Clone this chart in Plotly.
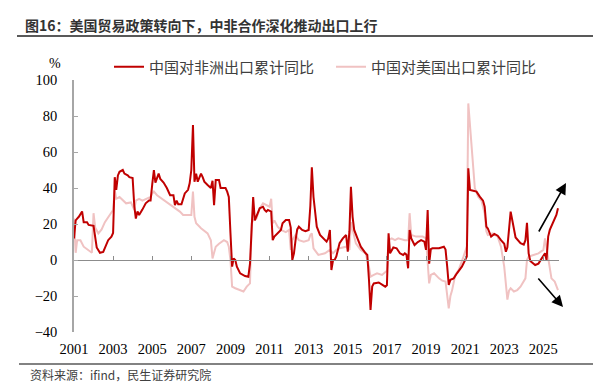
import plotly.graph_objects as go

# ---------------- data ----------------
africa_dates = ["2001-01","2001-02","2001-03","2001-04","2001-06","2001-07","2001-09","2001-10",
 "2002-01","2002-02","2002-03","2002-05","2002-07","2002-10","2002-12",
 "2003-01","2003-02","2003-03","2003-04","2003-05","2003-07","2003-08","2003-10","2003-11",
 "2004-01","2004-02","2004-03","2004-04","2004-05","2004-07","2004-09","2004-11","2004-12",
 "2005-01","2005-02","2005-03","2005-05","2005-06","2005-08","2005-10","2005-12",
 "2006-02","2006-03","2006-04","2006-05","2006-07","2006-09","2006-11","2006-12",
 "2007-01","2007-02","2007-03","2007-04","2007-05","2007-07","2007-08","2007-09","2007-11",
 "2008-01","2008-02","2008-03","2008-04","2008-06","2008-07","2008-10","2008-11","2008-12",
 "2009-01","2009-02","2009-03","2009-04","2009-05","2009-07","2009-10","2009-12",
 "2010-01","2010-02","2010-03","2010-04","2010-05","2010-07","2010-09","2010-10","2010-11","2010-12",
 "2011-02","2011-03","2011-04","2011-06","2011-08","2011-09","2011-11",
 "2012-01","2012-02","2012-03","2012-04","2012-05","2012-06","2012-07","2012-09","2012-11",
 "2013-01","2013-02","2013-03","2013-04","2013-06","2013-08","2013-10","2013-12",
 "2014-01","2014-02","2014-03","2014-04","2014-05","2014-06","2014-08","2014-10","2014-12",
 "2015-01","2015-02","2015-03","2015-04","2015-05","2015-07","2015-09","2015-12",
 "2016-01","2016-02","2016-03","2016-04","2016-05","2016-08","2016-10","2016-12",
 "2017-01","2017-02","2017-03","2017-05","2017-07","2017-09","2017-11","2017-12",
 "2018-01","2018-02","2018-03","2018-04","2018-06","2018-08","2018-10","2018-12",
 "2019-01","2019-02","2019-03","2019-04","2019-05","2019-09","2019-12",
 "2020-01","2020-02","2020-03","2020-04","2020-06","2020-08","2020-11",
 "2021-01","2021-02","2021-03","2021-04","2021-06","2021-08","2021-10","2021-12",
 "2022-01","2022-02","2022-03","2022-05","2022-07","2022-09","2022-11",
 "2023-01","2023-02","2023-03","2023-05","2023-06","2023-07","2023-08","2023-11",
 "2024-01","2024-02","2024-03","2024-04","2024-05","2024-08","2024-10","2024-12",
 "2025-02","2025-03","2025-04","2025-05","2025-07","2025-09","2025-10"]
africa_vals = [12,22,23,24,27,21,21,19.5,
 19,12,7,4,4.5,11,13,
 15,46,39,47,49,50,48,47,46,
 45.5,30,23,27,25,28,31.5,33,33,
 42,50,43,48,45,43,40,36,
 36,30.5,33,31,31,37,39,42.6,
 50,75,43.5,48,43.5,48,46,43.5,41.7,
 40,44,30.5,44.4,44.4,40,40,38,35,
 15,-3.7,0.9,0,-3.7,-7.4,-8.9,-9.3,
 -2,22,35,22,24,28.7,29.6,27.8,26.9,27.8,
 26.9,11,13,14.8,16.7,20.4,22.2,
 22.2,18,0,3.7,11,17,18.5,16.7,16,
 16.7,30,51.5,35,18.5,13.9,12,10.2,
 12,16.7,-5.6,0,0,2,9.3,12,13.9,
 4.6,16,40.7,24,16.7,12,7.4,3.7,
 2.8,-11,-27.8,-14.8,-13,-12.5,-13.9,-14.8,
 -14,14.8,3.7,7,6.5,3.7,2.8,3.7,
 3,-4.6,16.7,12,8.3,10,11,10.2,
 5.6,27.8,-2,6,6.5,6.5,7.4,
 5.8,-3.7,-13.9,-11,-10.2,-7.4,-3.7,
 0,2,50.9,38.9,38.5,38,35.2,33,
 29.6,18.5,17.5,13,14.5,13.5,11,
 9,4.6,7,26.9,22,15.7,12.5,9.3,
 8.5,11,20.7,3.7,-0.5,-2.8,-2,0.9,
 3.7,0,13,16.7,20.4,25,28.7]

us_dates = ["2001-01","2001-02","2001-03","2001-05","2001-07","2001-10","2001-12",
 "2002-01","2002-02","2002-04","2002-06","2002-08","2002-11",
 "2003-01","2003-02","2003-03","2003-05","2003-07","2003-09","2003-12",
 "2004-02","2004-03","2004-05","2004-07","2004-10","2004-12",
 "2005-01","2005-02","2005-04","2005-07","2005-11",
 "2006-03","2006-06","2006-08","2006-12",
 "2007-01","2007-02","2007-03","2007-04","2007-07","2007-11",
 "2008-01","2008-02","2008-04","2008-06","2008-09","2008-11","2008-12",
 "2009-01","2009-02","2009-04","2009-07","2009-09","2009-11",
 "2010-01","2010-02","2010-03","2010-05","2010-07","2010-09","2010-11",
 "2011-01","2011-02","2011-03","2011-04","2011-06","2011-08","2011-11",
 "2012-01","2012-02","2012-03","2012-05","2012-07","2012-10",
 "2013-01","2013-02","2013-03","2013-04","2013-07","2013-11",
 "2014-02","2014-04","2014-06","2014-08","2014-12",
 "2015-02","2015-03","2015-04","2015-06","2015-09","2015-12",
 "2016-02","2016-03","2016-05","2016-07","2016-10","2016-12",
 "2017-01","2017-02","2017-04","2017-06","2017-08","2017-12",
 "2018-02","2018-03","2018-04","2018-07","2018-11",
 "2019-01","2019-02","2019-03","2019-04","2019-06","2019-09","2019-11",
 "2020-01","2020-02","2020-03","2020-04","2020-05","2020-07","2020-09","2020-12",
 "2021-02","2021-03","2021-04","2021-05","2021-06","2021-07","2021-09","2021-11",
 "2022-01","2022-02","2022-03","2022-06","2022-09","2022-11",
 "2023-01","2023-02","2023-03","2023-04","2023-05","2023-07","2023-09","2023-11",
 "2024-02","2024-03","2024-04","2024-07","2024-10",
 "2025-01","2025-02","2025-03","2025-04","2025-05","2025-06","2025-08","2025-10"]
us_vals = [23,4,11,11,7.4,5.6,4,
 26,18,14.8,17,21,25,
 27.8,39,34,35,33,31.5,32,
 27.8,33,34,33,34,35,
 37,38,36,34,31.5,
 28.7,26.9,25,25,
 25,38,24,20.4,17.6,14.8,
 11,0.9,7.4,9,11,10,7.4,
 0,-14.8,-15.7,-16.7,-17.5,-14.8,
 -13,20.4,22,23,28.7,31.5,30.5,
 29.6,34,20.4,22,18.5,16.7,15.5,
 16.7,5.6,11,13.9,11,10.2,
 11,13.9,14.8,6.5,2.8,3.7,
 5.6,3.7,5.6,6.5,7.4,
 5.6,21,16.7,9.3,5.6,3.7,
 -3.7,-9.3,-8.3,-7.4,-8.3,-6.5,
 -6,11,12,11,12,11,
 11,26,13.9,13,13,
 12,-5,-13,-8.3,-7.4,-10.2,-11.5,
 -12,-22,-26.9,-20,-17,-8.3,-5.6,1.9,
 7.4,87,75,62,50,40,35.2,33,
 25.9,16,13.9,14.8,13,7.4,
 -3.7,-12.5,-22,-17,-15.7,-17.5,-16.7,-14.8,
 -10.2,0,1.9,2.8,3.7,
 5.6,12,7,1.9,-5,-10.2,-12,-16.7]

name_africa = "中国对非洲出口累计同比"
name_us = "中国对美国出口累计同比"
title_text = "图16：美国贸易政策转向下，中非合作深化推动出口上行"
source_text = "资料来源：ifind，民生证券研究院"

# ---------------- layout helpers ----------------
W, H = 593, 383
L, R, T, B = 74, 34, 80, 51
PW, PH = W - L - R, H - T - B
def xp(px):
    return (px - L) / PW
def yp(py):
    return (H - B - py) / PH

XRANGE = ["2001-01-01", "2025-10-20"]
YMIN, YMAX = -40, 100
serif = "Liberation Serif"
cjk = "Noto Sans CJK SC"

fig = go.Figure()
fig.add_trace(go.Scatter(x=us_dates, y=us_vals, name=name_us, mode="lines",
                         line=dict(color="#F0C2C2", width=2)))
fig.add_trace(go.Scatter(x=africa_dates, y=africa_vals, name=name_africa, mode="lines",
                         line=dict(color="#C00000", width=2)))
# carrier trace for the zero-line axis
fig.add_trace(go.Scatter(x=africa_dates, y=africa_vals, xaxis="x2", mode="lines",
                         line=dict(width=0), opacity=0, showlegend=False, hoverinfo="skip"))

fig.update_layout(
    width=W, height=H,
    margin=dict(l=L, r=R, t=T, b=B, autoexpand=False),
    paper_bgcolor="white", plot_bgcolor="white",
    showlegend=True,
    legend=dict(orientation="h", x=xp(109), y=yp(67), xanchor="left", yanchor="middle",
                traceorder="reversed", entrywidth=177,
                font=dict(family=cjk, size=15, color="#404040"),
                bgcolor="rgba(0,0,0,0)"),
    xaxis=dict(type="date", range=XRANGE, dtick="M24", tick0="2001-01-01", tickformat="%Y",
               showgrid=False, showline=False, zeroline=False, ticks="",
               tickfont=dict(family=serif, size=14.5, color="black"),
               ticklabelstandoff=6),
    xaxis2=dict(type="date", range=XRANGE, dtick="M24", tick0="2001-01-01",
                overlaying="x", anchor="free", position=(0 - YMIN) / (YMAX - YMIN),
                showgrid=False, showline=True, linecolor="#8C8C8C", linewidth=1,
                ticks="inside", ticklen=4, tickcolor="#8C8C8C", showticklabels=False,
                zeroline=False),
    yaxis=dict(range=[YMIN, YMAX], dtick=20, showgrid=False, zeroline=False,
               showline=True, linecolor="#A6A6A6", linewidth=1.5,
               ticks="inside", ticklen=4, tickcolor="#A6A6A6",
               tickfont=dict(family=serif, size=14.5, color="black"),
               ticklabelstandoff=12),
    title=dict(text=title_text, x=25 / W, y=1 - 26 / H, xref="container", yref="container",
               xanchor="left", yanchor="middle",
               font=dict(family=cjk, size=14, color="#333333", weight="bold")),
)

fig.add_shape(type="line", xref="paper", yref="paper", x0=xp(17), x1=xp(593), y0=yp(36), y1=yp(36),
              line=dict(color="#595959", width=2))
fig.add_shape(type="line", xref="paper", yref="paper", x0=xp(19), x1=xp(593), y0=yp(364), y1=yp(364),
              line=dict(color="#595959", width=1.5))

fig.add_annotation(text="%", xref="paper", yref="paper", x=xp(55), y=yp(63), showarrow=False,
                   xanchor="center", yanchor="middle", font=dict(family=serif, size=14, color="black"))
fig.add_annotation(text=source_text, xref="paper", yref="paper", x=xp(28), y=yp(374.5), showarrow=False,
                   xanchor="left", yanchor="middle", font=dict(family=cjk, size=12, color="#404040"))

# trend arrows
fig.add_annotation(text="", xref="paper", yref="paper", x=xp(566), y=yp(183),
                   axref="pixel", ayref="pixel", ax=-28, ay=50, showarrow=True,
                   arrowhead=2, arrowsize=1.4, arrowwidth=1.6, arrowcolor="black")
fig.add_annotation(text="", xref="paper", yref="paper", x=xp(563), y=yp(307),
                   axref="pixel", ayref="pixel", ax=-26, ay=-30, showarrow=True,
                   arrowhead=2, arrowsize=1.4, arrowwidth=1.6, arrowcolor="black")

fig.write_html("out.html", config={"displayModeBar": False},
               post_script="document.body.style.margin='0';document.body.style.overflow='hidden';")
